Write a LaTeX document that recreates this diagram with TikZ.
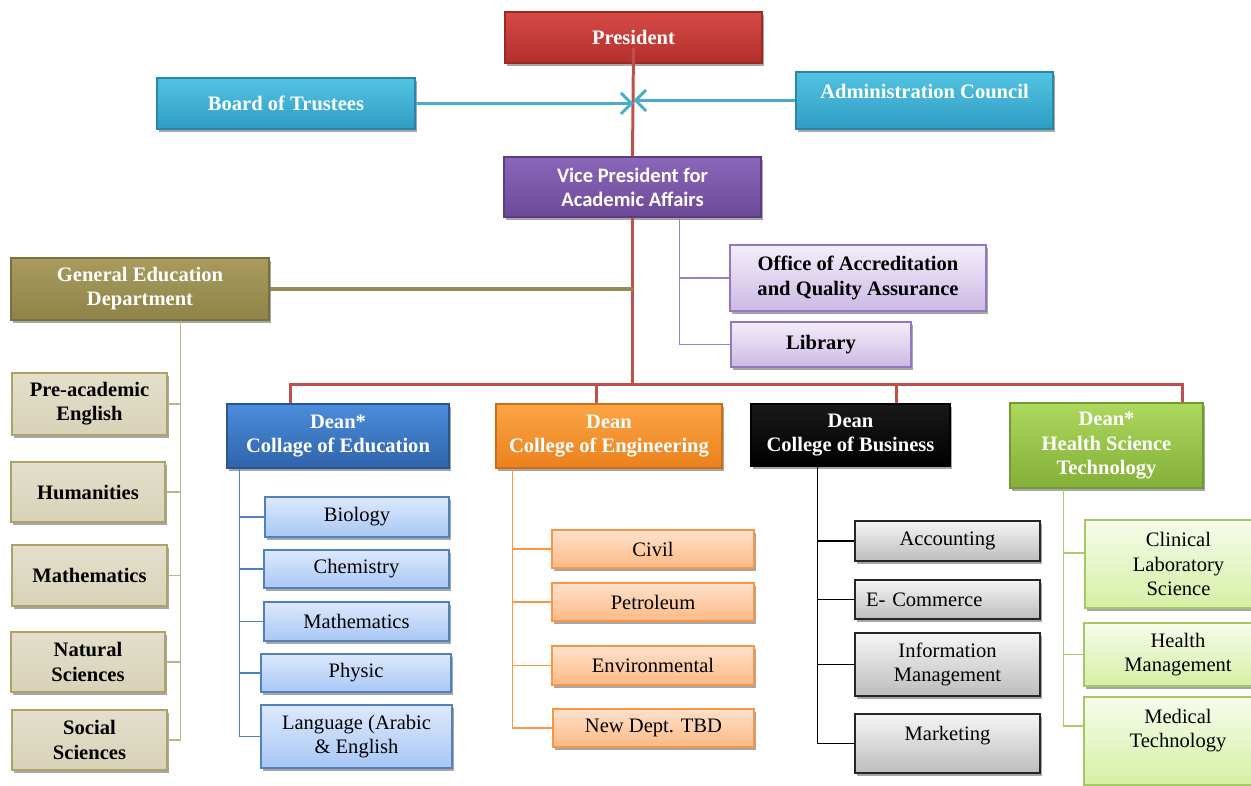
\documentclass[tikz,border=0pt]{standalone}
\usepackage{fontspec}
\setmainfont{Liberation Serif}
\newfontfamily\calfont{Carlito}
\usetikzlibrary{shadows,arrows.meta,calc}
\definecolor{presT}{HTML}{D64A46}\definecolor{presB}{HTML}{B32F2C}\definecolor{presD}{HTML}{9B2A27}
\definecolor{cyaT}{HTML}{53C3E2}\definecolor{cyaB}{HTML}{2F9DC2}\definecolor{cyaD}{HTML}{2A86A6}
\definecolor{purT}{HTML}{8B66B9}\definecolor{purB}{HTML}{6C4A98}\definecolor{purD}{HTML}{5B3D82}
\definecolor{oliT}{HTML}{A99B5E}\definecolor{oliB}{HTML}{8F8349}\definecolor{oliD}{HTML}{7A703E}
\definecolor{bluT}{HTML}{4C8DDC}\definecolor{bluB}{HTML}{2F63AA}\definecolor{bluD}{HTML}{2A5590}
\definecolor{oraT}{HTML}{FCA545}\definecolor{oraB}{HTML}{EA811D}\definecolor{oraD}{HTML}{CC6E15}
\definecolor{grnT}{HTML}{ADD85E}\definecolor{grnB}{HTML}{84AF38}\definecolor{grnD}{HTML}{739A30}
\definecolor{lavT}{HTML}{F3EEF9}\definecolor{lavB}{HTML}{CDB9E5}\definecolor{lavD}{HTML}{9478BE}
\definecolor{begT}{HTML}{E3DFCB}\definecolor{begB}{HTML}{D8D2B8}\definecolor{begD}{HTML}{AFA268}
\definecolor{lbT}{HTML}{DDE9FC}\definecolor{lbB}{HTML}{A8C7F5}\definecolor{lbD}{HTML}{4F81BD}
\definecolor{loT}{HTML}{FEE2CC}\definecolor{loB}{HTML}{FCB985}\definecolor{loD}{HTML}{F79646}
\definecolor{gyT}{HTML}{F5F5F5}\definecolor{gyB}{HTML}{BDBDBD}\definecolor{gyD}{HTML}{262626}
\definecolor{lgT}{HTML}{F7FCEB}\definecolor{lgB}{HTML}{D6EFA5}\definecolor{lgD}{HTML}{A5C862}
\definecolor{redL}{HTML}{C0504D}\definecolor{cyaL}{HTML}{4BACC6}\definecolor{oliL}{HTML}{948A54}
\definecolor{genL}{HTML}{BDB58A}\definecolor{purL}{HTML}{9A7FC2}\definecolor{grnL}{HTML}{A9CB6A}
\newcommand\fs{\fontsize{11.7}{13.7}\selectfont}
\newcommand\bx[7]{\node[#6, minimum width={(#4-#2)*0.02cm}, minimum height={(#5-#3)*0.02cm}] (#1) at ({(#2+#4)/2},{(#3+#5)/2}) {#7};}
\tikzset{
  shad/.style={drop shadow={shadow xshift=1.2pt, shadow yshift=-1.5pt, opacity=0.35, fill=black}},
  mainbox/.style={rectangle, inner sep=0pt, align=center, text=white, font=\fs\bfseries, line width=0.6pt, shad},
  subbox/.style={rectangle, inner sep=0pt, align=center, text=black, font=\fs, line width=1.1pt, shad},
  presbox/.style={mainbox, top color=presT, bottom color=presB, draw=presD},
  cyabox/.style={mainbox, top color=cyaT, bottom color=cyaB, draw=cyaD},
  purbox/.style={mainbox, top color=purT, bottom color=purB, draw=purD, font=\fs\calfont\bfseries},
  olibox/.style={mainbox, top color=oliT, bottom color=oliB, draw=oliD},
  blubox/.style={mainbox, top color=bluT, bottom color=bluB, draw=bluD},
  orabox/.style={mainbox, top color=oraT, bottom color=oraB, draw=oraD},
  blkbox/.style={mainbox, top color=black!90, bottom color=black, draw=black},
  grnbox/.style={mainbox, top color=grnT, bottom color=grnB, draw=grnD},
  lavbox/.style={subbox, top color=lavT, bottom color=lavB, draw=lavD, font=\fs\bfseries},
  begbox/.style={subbox, top color=begT, bottom color=begB, draw=begD, font=\fs\bfseries},
  lbbox/.style={subbox, top color=lbT, bottom color=lbB, draw=lbD},
  lobox/.style={subbox, top color=loT, bottom color=loB, draw=loD},
  gybox/.style={subbox, top color=gyT, bottom color=gyB, draw=gyD},
  lgbox/.style={subbox, top color=lgT, bottom color=lgB, draw=lgD},
  redline/.style={draw=redL, line width=1.7pt},
  cyaarrow/.style={draw=cyaL, line width=1.7pt, -{Straight Barb[length=6pt,width=12pt]}},
  olive/.style={draw=oliL, line width=2.2pt},
  thin/.style={line width=0.9pt},
}
\begin{document}
\begin{tikzpicture}[x={(0.02cm,0)}, y={(0,-0.02cm)}]
\clip (0,0) rectangle (1251,786);
\fill[white] (0,0) rectangle (1251,786);
% top level
\bx{pres}{505}{12}{762}{63}{presbox}{President}
\bx{board}{157}{78}{415}{129}{cyabox}{Board of Trustees}
\bx{admin}{796}{72}{1053}{129}{cyabox}{Administration Council\\[-3pt]\phantom{A}}
\bx{vp}{504}{157}{761}{217}{purbox}{Vice President for\\Academic Affairs}
\bx{office}{730}{245}{986}{311}{lavbox}{Office of Accreditation\\and Quality Assurance}
\bx{lib}{731}{322}{911}{367}{lavbox}{Library}
\bx{gened}{11}{258}{269}{320}{olibox}{General Education\\Department}
% general education
\bx{pre}{12}{373}{167}{435}{begbox}{Pre-academic\\English}
\bx{hum}{11}{462}{165}{522}{begbox}{Humanities}
\bx{gmath}{12}{545}{167}{606}{begbox}{Mathematics}
\bx{nat}{11}{632}{165}{692}{begbox}{Natural\\Sciences}
\bx{soc}{12}{710}{167}{770}{begbox}{Social\\Sciences}
% deans
\bx{deanedu}{227}{404}{449}{468}{blubox}{Dean*\\Collage of Education}
\bx{deaneng}{496}{404}{722}{468}{orabox}{Dean\\College of Engineering}
\bx{deanbus}{751}{404}{950}{466}{blkbox}{Dean\\College of Business}
\bx{deanhst}{1010}{403}{1203}{488}{grnbox}{Dean*\\Health Science\\Technology}
% education
\bx{bio}{265}{497}{449}{537}{lbbox}{Biology}
\bx{chem}{264}{550}{449}{588}{lbbox}{Chemistry}
\bx{emath}{264}{602}{449}{641}{lbbox}{Mathematics}
\bx{phys}{261}{654}{451}{692}{lbbox}{Physic}
\bx{lang}{261}{705}{452}{768}{lbbox}{Language (Arabic\\\& English}
% engineering
\bx{civil}{552}{530}{754}{568}{lobox}{Civil}
\bx{petro}{552}{583}{754}{621}{lobox}{Petroleum}
\bx{env}{552}{646}{754}{685}{lobox}{Environmental}
\bx{newd}{553}{709}{754}{747}{lobox}{New Dept. TBD}
% business
\bx{acc}{855}{521}{1040}{561}{gybox}{Accounting}
\bx{ecom}{855}{580}{1040}{619}{gybox, text width={163*0.02cm}, align=left}{E- Commerce}
\bx{info}{855}{633}{1040}{696}{gybox}{Information\\Management}
\bx{mark}{855}{714}{1040}{773}{gybox}{Marketing\\[-2pt]\phantom{M}}
% health
\bx{clin}{1085}{520}{1272}{608}{lgbox}{Clinical\\Laboratory\\Science}
\bx{hm}{1084}{623}{1272}{686}{lgbox}{Health\\Management}
\bx{med}{1084}{697}{1272}{785}{lgbox}{Medical\\Technology\\[1pt]\phantom{M}}
% connectors
\coordinate (bus) at ($(vp.south)+(0,167)$);
\draw[redline] ($(pres.south)+(0,-16)$) -- (vp.north);
\draw[redline] (vp.south) -- (bus);
\draw[redline] ($(deanedu.north west)+(64,0)$) |- (bus);
\draw[redline] ($(deaneng.north west)+(101,0)$) |- (bus);
\draw[redline] ($(deanbus.north west)+(146,0)$) |- (bus);
\draw[redline] ($(deanhst.north west)+(173,0)$) |- (bus);
\draw[cyaarrow] (board.east) -- (board.east -| pres.south);
\draw[cyaarrow] (admin.west) -- (admin.west -| pres.south);
\draw[olive] (gened.east) -- (gened.east -| vp.south);
\draw[purL, thin] ($(vp.south west)+(176,0)$) |- (office.west);
\draw[purL, thin] ($(vp.south west)+(176,0)$) |- (lib.west);
\foreach \n in {pre,hum,gmath,nat,soc}
  \draw[genL, thin] ($(gened.south west)+(170,0)$) |- (\n.east);
\foreach \n in {bio,chem,emath,phys,lang}
  \draw[lbD, thin] ($(deanedu.south west)+(13,0)$) |- (\n.west);
\foreach \n in {civil,petro,env,newd}
  \draw[loD, thin] ($(deaneng.south west)+(17,0)$) |- (\n.west);
\foreach \n in {acc,ecom,info,mark}
  \draw[black, thin] ($(deanbus.south west)+(67,0)$) |- (\n.west);
\draw[grnL, thin] ($(deanhst.south west)+(54,0)$) |- ($(clin.west)+(0,-11)$);
\draw[grnL, thin] ($(deanhst.south west)+(54,0)$) |- (hm.west);
\draw[grnL, thin] ($(deanhst.south west)+(54,0)$) |- ($(med.west)+(0,-15)$);
\end{tikzpicture}
\end{document}
